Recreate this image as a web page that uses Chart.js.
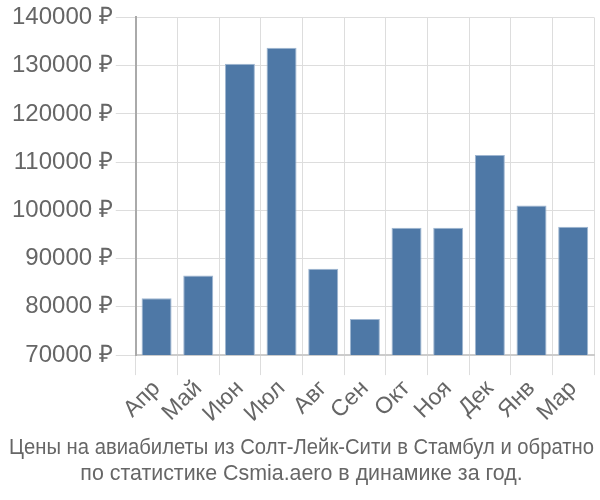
<!DOCTYPE html>
<html lang="ru">
<head>
    <meta charset="UTF-8">
    <title>Цены на авиабилеты</title>
    <script src="https://cdn.jsdelivr.net/npm/chart.js"></script>
    <style>
        body { margin: 0; background: #fff; }
    </style>
</head>
<body>

<div style="width: 600px; height: 500px;">
    <canvas id="chart" width="600" height="500"></canvas>
</div>

<script>
    // Months and prices (rub)
    const months = ['Апр', 'Май', 'Июн', 'Июл', 'Авг', 'Сен', 'Окт', 'Ноя', 'Дек', 'Янв', 'Мар'];
    const prices = [81800, 86500, 130400, 133700, 87900, 77500, 96400, 96400, 111500, 101000, 96600];
    const yMin = 70000;
    const yMax = 140000;
    const yStep = 10000;

    const ctx = document.getElementById('chart').getContext('2d');
    new Chart(ctx, {
        type: 'bar',
        data: {
            labels: months,
            datasets: [{
                data: prices,
                backgroundColor: '#4e78a6',
                borderColor: '#9fb6d1',
                borderWidth: 1
            }]
        },
        options: {
            responsive: false,
            animation: false,
            layout: { padding: { left: 9, right: 6, top: 0, bottom: 0 } },
            plugins: {
                legend: { display: false },
                tooltip: { enabled: false },
                title: {
                    display: true,
                    position: 'bottom',
                    text: ['Цены на авиабилеты из Солт-Лейк-Сити в Стамбул и обратно',
                           'по статистике Csmia.aero в динамике за год.'],
                    color: '#666',
                    font: { family: 'Liberation Sans', size: 21.4, weight: 'normal', lineHeight: 1.2 },
                    padding: { top: 8, bottom: 13 }
                }
            },
            scales: {
                x: {
                    grid: { color: '#ddd', tickLength: 20, offset: true },
                    border: { color: '#ccc', width: 2 },
                    ticks: {
                        color: '#666',
                        font: { family: 'Liberation Sans', size: 23 },
                        maxRotation: 45,
                        minRotation: 45,
                        autoSkip: false,
                        padding: 0
                    }
                },
                y: {
                    min: yMin,
                    max: yMax,
                    grid: { color: '#ddd', tickLength: 20 },
                    border: { color: '#aaa', width: 2 },
                    ticks: {
                        stepSize: yStep,
                        color: '#666',
                        font: { family: 'Liberation Sans', size: 24 },
                        padding: 3,
                        callback: v => v + ' ₽'
                    }
                }
            }
        }
    });
</script>
</body>
</html>
